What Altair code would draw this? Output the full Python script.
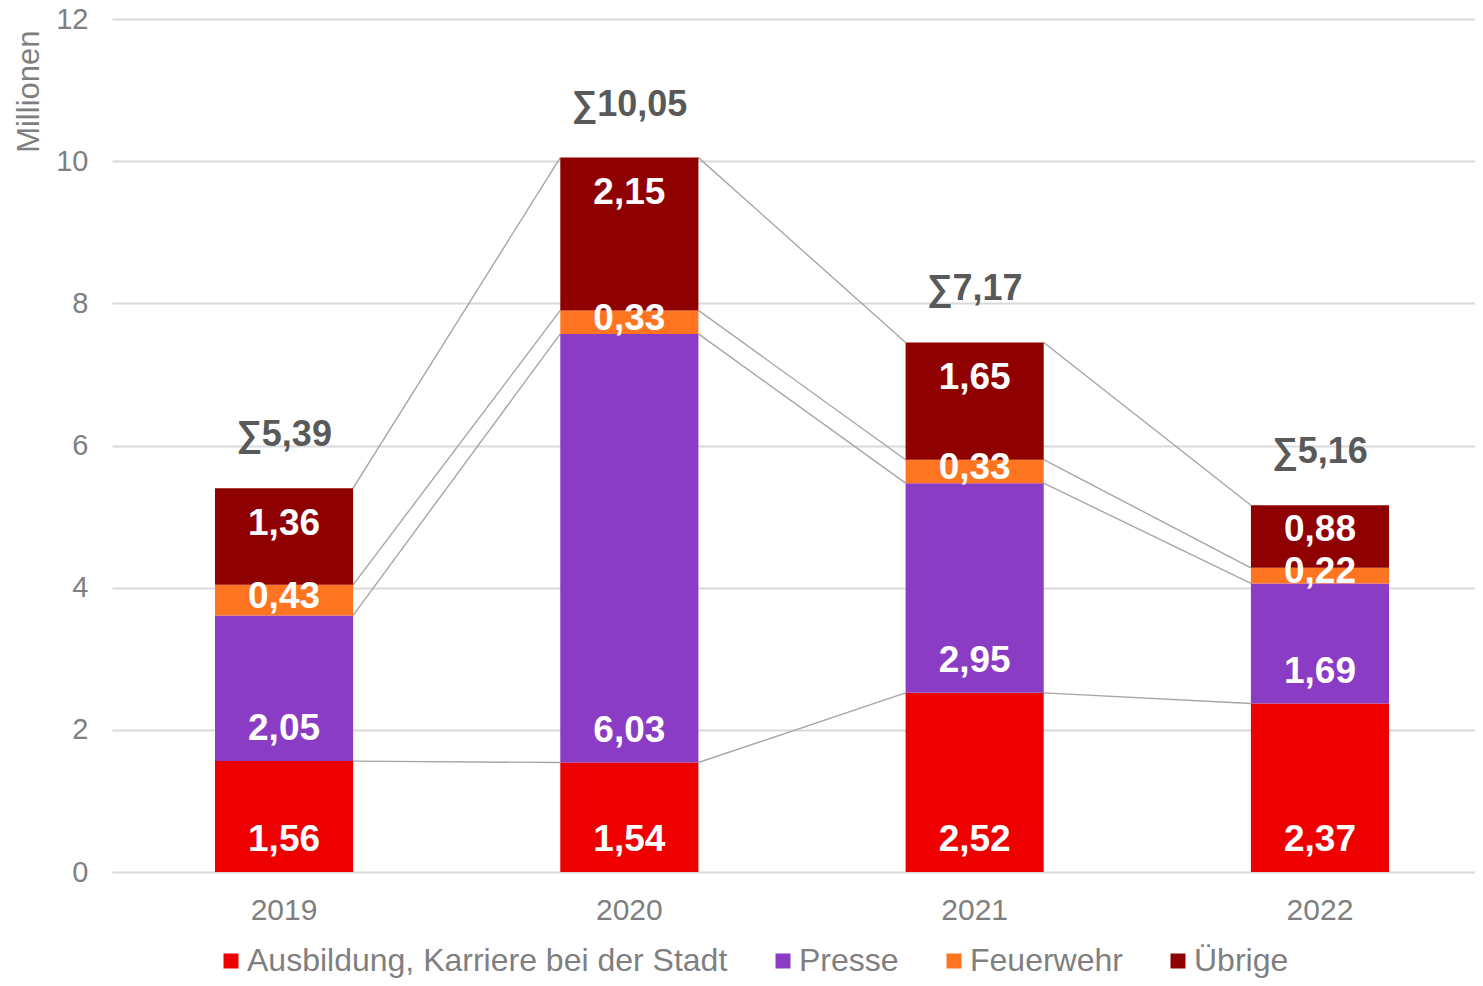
import altair as alt
import pandas as pd

years = ["2019", "2020", "2021", "2022"]
categories = ["Ausbildung, Karriere bei der Stadt", "Presse", "Feuerwehr", "Übrige"]
colors = ["#EE0000", "#8A3CC4", "#FF7420", "#8F0000"]
ausbildung = [1.56, 1.54, 2.52, 2.37]
presse = [2.05, 6.03, 2.95, 1.69]
feuerwehr = [0.43, 0.33, 0.33, 0.22]
uebrige = [1.36, 2.15, 1.65, 0.88]
sum_labels = ["∑5,39", "∑10,05", "∑7,17", "∑5,16"]
y_ticks = [0, 2, 4, 6, 8, 10, 12]

FONT = "Liberation Sans"
GRAY = "#7F7F7F"

series = [ausbildung, presse, feuerwehr, uebrige]
rows = []
for i, yr in enumerate(years):
    base = 0.0
    for k, (cat, vals) in enumerate(zip(categories, series)):
        v = vals[i]
        top = base + v
        if k < 2:
            ly = base + 0.45
        elif k == 2:
            ly = (base + top) / 2 + 0.05
        else:
            ly = top - min(0.5, 0.4 * v)
        rows.append(dict(year=yr, cat=cat, order=k, value=v, y0=base, y1=top,
                         ly=ly, label=f"{v:.2f}".replace(".", ",")))
        base = top
df = pd.DataFrame(rows)

conn = []
for i in range(len(years) - 1):
    for cat in categories:
        a = df[(df.year == years[i]) & (df.cat == cat)].y1.iloc[0]
        b = df[(df.year == years[i + 1]) & (df.cat == cat)].y1.iloc[0]
        conn.append(dict(year=years[i], nyear=years[i + 1], ya=a, yb=b))
conn = pd.DataFrame(conn)

tot = df.groupby("year", as_index=False).y1.max().rename(columns={"y1": "total"})
tot["label"] = sum_labels

xscale = alt.Scale(domain=years, paddingInner=0.6, paddingOuter=0.2736, align=0.545)
yscale = alt.Scale(domain=[0, 12], nice=False)

xaxis = alt.Axis(title=None, domain=False, ticks=False, labelFontSize=30,
                 labelColor=GRAY, labelFont=FONT, labelPadding=23, labelAngle=0)
yaxis = alt.Axis(values=y_ticks, format="d", grid=True, gridColor="#D9D9D9", gridWidth=2,
                 domain=False, ticks=False, labelFontSize=29, labelColor=GRAY,
                 labelFont=FONT, labelPadding=24,
                 title="Millionen", titleFontSize=31, titleColor=GRAY, titleFont=FONT,
                 titleFontWeight="normal", titleAngle=270, titleAlign="right",
                 titleBaseline="middle", titleX=-83, titleY=11)

rules = alt.Chart(conn).mark_rule(color="#A6A6A6", strokeWidth=1.4).encode(
    x=alt.X("year:N", bandPosition=1, scale=xscale, axis=xaxis),
    x2=alt.X2("nyear", bandPosition=0),
    y=alt.Y("ya:Q", scale=yscale, axis=yaxis),
    y2="yb",
)

bars = alt.Chart(df).mark_bar().encode(
    x=alt.X("year:N", scale=xscale, axis=xaxis),
    y=alt.Y("y0:Q", scale=yscale, axis=yaxis),
    y2="y1",
    color=alt.Color("cat:N", scale=alt.Scale(domain=categories, range=colors),
                    legend=alt.Legend(orient="none", legendX=103, legendY=926,
                                      direction="horizontal", title=None,
                                      symbolType="square", symbolSize=225,
                                      symbolStrokeWidth=0, labelFontSize=32,
                                      labelColor=GRAY, labelFont=FONT,
                                      labelLimit=800, columnPadding=39,
                                      labelOffset=0)),
)

labels = alt.Chart(df).mark_text(color="white", fontWeight="bold", fontSize=37,
                                 font=FONT, baseline="middle").encode(
    x=alt.X("year:N", scale=xscale),
    y=alt.Y("ly:Q", scale=yscale),
    text="label:N",
)

sums = alt.Chart(tot).mark_text(color="#595959", fontWeight="bold", fontSize=36,
                                font=FONT, baseline="middle", dy=-53).encode(
    x=alt.X("year:N", scale=xscale),
    y=alt.Y("total:Q", scale=yscale),
    text="label:N",
)

chart = alt.layer(rules, bars, labels, sums).properties(
    width=1363, height=853,
    padding={"left": 104, "top": 11, "right": 0, "bottom": 106},
    autosize="none",
).configure_view(stroke=None)

chart.save("out.html", embed_options={"renderer": "svg", "actions": False})
